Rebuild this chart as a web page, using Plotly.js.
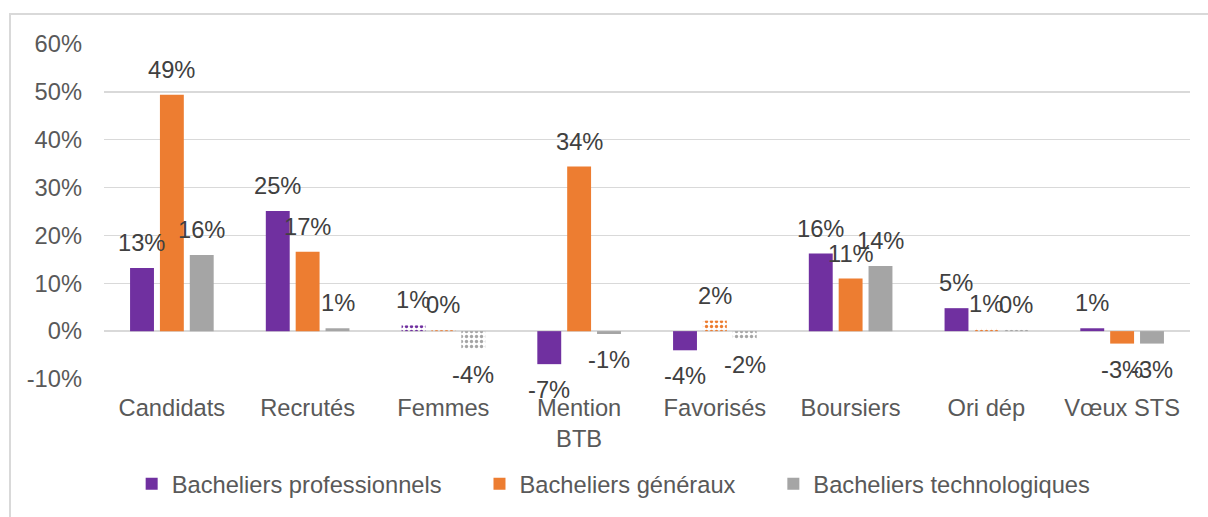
<!DOCTYPE html>
<html>
<head>
<meta charset="utf-8">
<script src="https://cdn.plot.ly/plotly-3.0.1.min.js"></script>
<style>
  html, body { margin: 0; padding: 0; background: #fff; }
  #wrap { position: relative; width: 1208px; height: 517px; overflow: hidden; }
  #chart { width: 1208px; height: 517px; }
  #frame { position: absolute; left: 9px; top: 13px; width: 1220px; height: 540px;
           border: 2px solid #d9d9d9; pointer-events: none; box-sizing: border-box; }
</style>
</head>
<body>
<div id="wrap">
  <div id="chart"></div>
  <div id="frame"></div>
</div>
<script>
// ---- Data (percent values) ----
const categories = ["Candidats", "Recrutés", "Femmes", "Mention<br>BTB", "Favorisés", "Boursiers", "Ori dép", "Vœux STS"];
const seriesNames = ["Bacheliers professionnels", "Bacheliers généraux", "Bacheliers technologiques"];
const proValues  = [13.2, 25.1, 1.2, -6.9, -4.0, 16.2, 4.8, 0.6];
const genValues  = [49.4, 16.6, 0.2, 34.4, 2.2, 11.0, 0.5, -2.6];
const techValues = [15.9, 0.6, -3.7, -0.6, -1.7, 13.6, 0.3, -2.6];
// non-significant bars drawn with a dotted pattern (1 = dotted)
const proDotted  = [0, 0, 1, 0, 0, 0, 0, 0];
const genDotted  = [0, 0, 1, 0, 1, 0, 1, 0];
const techDotted = [0, 0, 1, 0, 1, 0, 1, 0];
const yTickVals = [-10, 0, 10, 20, 30, 40, 50, 60];

const colors = ["#7030A0", "#ED7D31", "#A5A5A5"];
const allValues = [proValues, genValues, techValues];
const allDotted = [proDotted, genDotted, techDotted];
const FONT = "'Liberation Sans', Arial, sans-serif";
const FS = 23.7;
const NB = "\u00a0\u00a0\u00a0\u00a0\u00a0";

const traces = allValues.map((vals, s) => ({
  type: "bar",
  name: seriesNames[s] + (s < 2 ? NB : ""),
  x: categories,
  y: vals,
  marker: {
    color: colors[s],
    line: { width: 0 },
    pattern: {
      shape: allDotted[s].map(d => d ? "." : ""),
      fillmode: "replace",
      size: 5,
      solidity: 0.35,
      fgcolor: colors[s]
    }
  },
  hoverinfo: "skip"
}));

// data labels positioned from the values, shifted per series slot
const slot = 0.221;
const annotations = [];
allValues.forEach((vals, s) => {
  vals.forEach((v, i) => {
    annotations.push({
      x: i + (s - 1) * slot,
      y: v,
      xref: "x", yref: "y",
      text: Math.round(v) + "%",
      showarrow: false,
      yanchor: "middle",
      yshift: v >= 0 ? 25 : -26,
      font: { family: FONT, size: FS, color: "#404040" }
    });
  });
});

const layout = {
  width: 1208, height: 517,
  margin: { l: 104, r: 18, t: 44, b: 138 },
  paper_bgcolor: "rgba(0,0,0,0)",
  plot_bgcolor: "rgba(0,0,0,0)",
  barmode: "group",
  bargap: 0.34,
  bargroupgap: 0.2,
  font: { family: FONT, size: FS, color: "#595959" },
  xaxis: {
    type: "category",
    showgrid: false,
    showline: false,
    ticks: "",
    ticklabelstandoff: 12,
    tickfont: { family: FONT, size: FS, color: "#595959" }
  },
  yaxis: {
    range: [-10, 60],
    tickvals: yTickVals,
    ticktext: yTickVals.map(v => v + "%"),
    showgrid: true,
    gridcolor: "#d9d9d9",
    gridwidth: 1.5,
    zeroline: true,
    zerolinecolor: "#d9d9d9",
    zerolinewidth: 1.5,
    showline: false,
    ticks: "",
    ticklabelstandoff: 21,
    tickfont: { family: FONT, size: FS, color: "#595959" }
  },
  showlegend: true,
  legend: {
    orientation: "h",
    xref: "container", yref: "container",
    x: 0.508, xanchor: "center",
    y: 0.064, yanchor: "middle",
    font: { family: FONT, size: FS, color: "#595959" },
    itemclick: false, itemdoubleclick: false
  },
  annotations: annotations
};

Plotly.newPlot("chart", traces, layout, { staticPlot: true, displayModeBar: false });
</script>
</body>
</html>
